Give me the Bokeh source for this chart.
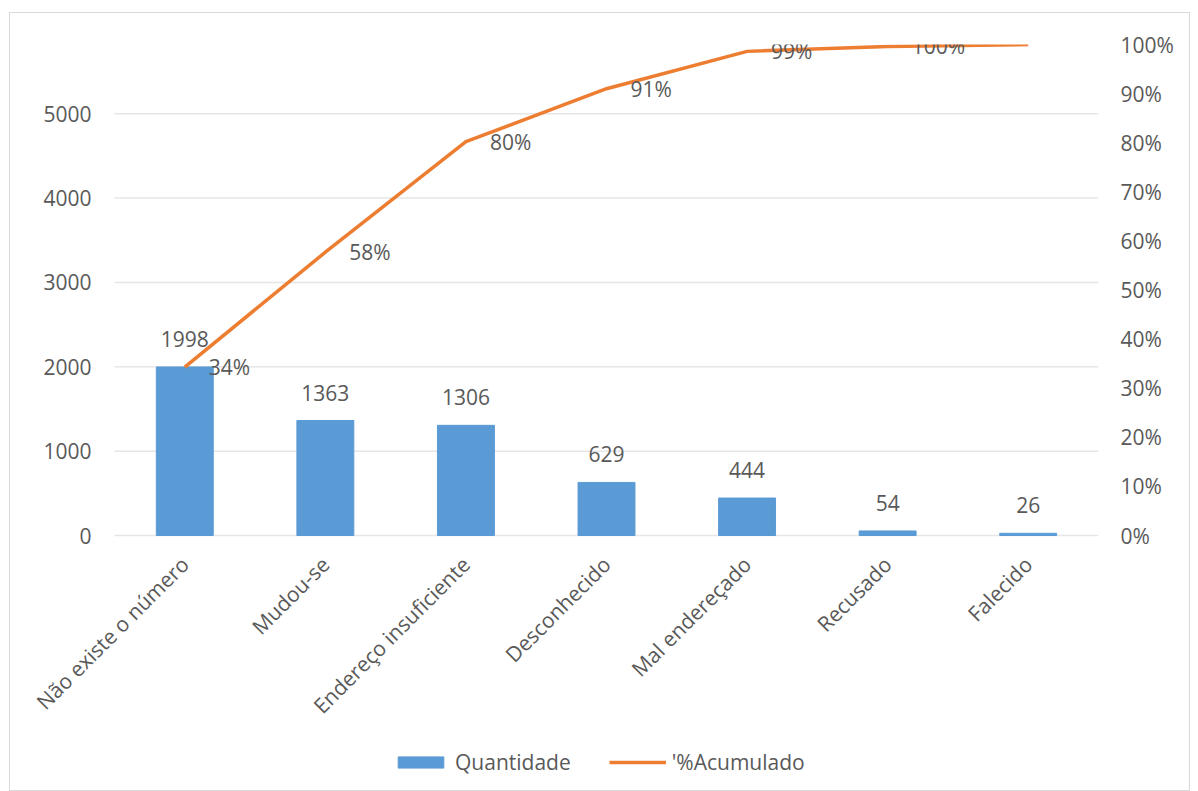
import math
from bokeh.plotting import figure
from bokeh.models import (ColumnDataSource, LinearAxis, Range1d, FixedTicker,
                          NumeralTickFormatter, Legend, LegendItem, LabelSet)
from bokeh.core.properties import value
from bokeh.embed import file_html
from bokeh.resources import INLINE

categories = ["Não existe o número", "Mudou-se", "Endereço insuficiente",
              "Desconhecido", "Mal endereçado", "Recusado", "Falecido"]
quantidade = [1998, 1363, 1306, 629, 444, 54, 26]
acumulado = [0.343, 0.577, 0.802, 0.910, 0.986, 0.996, 1.0]
acum_labels = ["34%", "58%", "80%", "91%", "99%", "100%", ""]
left_ticks = [0, 1000, 2000, 3000, 4000, 5000]
right_ticks = [0.0, 0.1, 0.2, 0.3, 0.4, 0.5, 0.6, 0.7, 0.8, 0.9, 1.0]

FONT = "Open Sans"
TXT = "#595959"
FS = "21px"

n = len(categories)
idx = list(range(n))  # category slot index

# layout: the frame extends below the zero line and to the left of the bar area,
# so that the rotated category labels and the legend can be drawn inside it
Y_MAX = 5820
BAR_AREA_PX = 491        # height from 0 to Y_MAX
BELOW_PX = 241           # space below the zero line
CAT_AREA_PX = 984        # width of the category area
LEFT_EXTRA_PX = 93       # extra frame width left of the category area
y_start = -BELOW_PX * Y_MAX / BAR_AREA_PX
pct_start = -BELOW_PX / BAR_AREA_PX
x_start = -0.5 - LEFT_EXTRA_PX * n / CAT_AREA_PX

src = ColumnDataSource(dict(i=idx, cat=categories, q=quantidade, acc=acumulado,
                            zero=[0] * n,
                            ql=[str(v) for v in quantidade], al=acum_labels))
grid_src = ColumnDataSource(dict(y=left_ticks, x0=[-0.5] * len(left_ticks),
                                 x1=[n - 0.5] * len(left_ticks)))

p = figure(x_range=Range1d(x_start, n - 0.5), y_range=Range1d(y_start, Y_MAX),
           x_axis_location=None,
           width=1181, height=779, output_backend="svg", toolbar_location=None,
           min_border_left=11, min_border_right=93, min_border_top=31,
           min_border_bottom=16)
p.margin = (12, 8, 0, 9)
p.extra_y_ranges = {"pct": Range1d(pct_start, 1)}

# horizontal gridlines across the category area only
p.segment(x0="x0", x1="x1", y0="y", y1="y", source=grid_src,
          line_color="#E6E6E6", line_width=1.5)

bars = p.vbar(x="i", top="q", width=0.405, source=src, color="#5B9BD5")
line = p.line(x="i", y="acc", source=src, y_range_name="pct",
              line_color="#ED7D31", line_width=3.5)

p.add_layout(LabelSet(x="i", y="q", text="ql", source=src, text_align="center",
                      text_baseline="bottom", y_offset=20, text_color=TXT,
                      text_font=value(FONT), text_font_size=FS))
p.add_layout(LabelSet(x="i", y="acc", text="al", source=src, y_range_name="pct",
                      text_align="left", text_baseline="middle", x_offset=24,
                      y_offset=0, text_color=TXT, text_font=value(FONT),
                      text_font_size=FS))
# rotated category labels
p.add_layout(LabelSet(x="i", y="zero", text="cat", source=src, angle=math.pi / 4,
                      text_align="right", text_baseline="middle", x_offset=0,
                      y_offset=-25, text_color=TXT, text_font=value(FONT),
                      text_font_size=FS))

# left axis (labels pulled inside, next to the category area)
p.yaxis.ticker = FixedTicker(ticks=left_ticks)
yax = p.yaxis[0]
yax.axis_line_color = None
yax.major_tick_line_color = None
yax.minor_tick_line_color = None
yax.major_tick_out = 0
yax.major_tick_in = 0
yax.major_label_text_color = TXT
yax.major_label_text_font = FONT
yax.major_label_text_font_size = FS
yax.major_label_standoff = -70

right = LinearAxis(y_range_name="pct", ticker=FixedTicker(ticks=right_ticks),
                   formatter=NumeralTickFormatter(format="0%"))
right.axis_line_color = None
right.major_tick_line_color = None
right.minor_tick_line_color = None
right.major_label_text_color = TXT
right.major_label_text_font = FONT
right.major_label_text_font_size = FS
right.major_label_standoff = 16
p.add_layout(right, "right")

p.xgrid.visible = False
p.ygrid.visible = False
p.outline_line_color = None
p.background_fill_color = "white"
p.border_fill_color = "white"

legend = Legend(items=[LegendItem(label="Quantidade", renderers=[bars]),
                       LegendItem(label="'%Acumulado", renderers=[line])],
                orientation="horizontal", location=(371, 0),
                label_text_color=TXT, label_text_font=FONT, label_text_font_size=FS,
                glyph_width=57, glyph_height=14, spacing=38, label_standoff=6,
                border_line_color=None, background_fill_alpha=0, padding=4,
                margin=0)
p.add_layout(legend, "center")

p.styles = {"border": "1px solid #D9D9D9"}

open("out.html", "w").write(file_html(p, INLINE))
